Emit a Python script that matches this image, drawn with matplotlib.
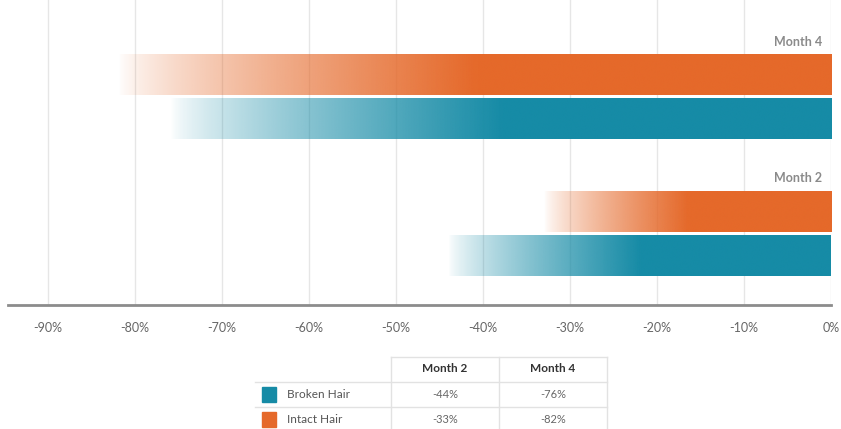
import numpy as np
import matplotlib.pyplot as plt
from matplotlib.colors import to_rgb

plt.rcParams['font.family'] = ['Lato', 'DejaVu Sans']

months = ["Month 2", "Month 4"]
broken_hair = [-44, -76]
intact_hair = [-33, -82]
series_names = ["Broken Hair", "Intact Hair"]
series_colors = ["#168ba6", "#e5692a"]
xticks = [-90, -80, -70, -60, -50, -40, -30, -20, -10, 0]

W, H = 841, 429
fig = plt.figure(figsize=(W / 100, H / 100), dpi=100)
ax = fig.add_axes([8 / W, 1 - 305 / H, (831 - 8) / W, 305 / H])

group_y = {"Month 4": 97, "Month 2": 234}
bar_h = 41
offset = 22


def gradient_bar(ax, y, val, color):
    rgb = to_rgb(color)
    n = 400
    x = np.linspace(0, 1, n)
    # fade in across the left part of the bar
    a = np.clip(x / 0.5, 0, 1) ** 0.75
    img = np.zeros((1, n, 4))
    img[0, :, :3] = rgb
    img[0, :, 3] = a
    ax.imshow(img, extent=[val, 0, y + bar_h / 2, y - bar_h / 2],
              aspect='auto', interpolation='bicubic', zorder=2)


for i, m in enumerate(months):
    yc = group_y[m]
    gradient_bar(ax, yc - offset, intact_hair[i], series_colors[1])
    gradient_bar(ax, yc + offset, broken_hair[i], series_colors[0])
    ax.text(-1.0, yc - offset - bar_h / 2 - 7, m, ha='right', va='bottom',
            fontsize=9, fontweight='bold', color='#8a8a8a', zorder=3)

ax.set_xlim(-94.6, 0)
ax.set_ylim(305, 0)
ax.set_xticks(xticks)
ax.set_xticklabels([f"{t}%" for t in xticks])
ax.tick_params(axis='x', length=0, pad=12, labelsize=9, labelcolor='#666666')
ax.tick_params(axis='y', left=False, labelleft=False)
ax.grid(axis='x', color='#e6e6e6', linewidth=1, zorder=0)
ax.set_axisbelow(True)
for s in ['top', 'left', 'right']:
    ax.spines[s].set_visible(False)
ax.spines['bottom'].set_color('#8c8c8c')
ax.spines['bottom'].set_linewidth(2)

# data table below the chart (pixel layout)
def fx(px):
    return px / W


def fy(py):
    return 1 - py / H


line_c = '#e2e2e2'
col_x = [255, 391, 499, 607]
row_y = [357, 382, 407, 432]
fig.add_artist(plt.Line2D([fx(391), fx(607)], [fy(357), fy(357)], color=line_c, lw=1))
for ry in row_y[1:]:
    fig.add_artist(plt.Line2D([fx(255), fx(607)], [fy(ry), fy(ry)], color=line_c, lw=1))
for cx in col_x[1:]:
    fig.add_artist(plt.Line2D([fx(cx), fx(cx)], [fy(357), fy(432)], color=line_c, lw=1))

for j, m in enumerate(months):
    fig.text(fx((col_x[j + 1] + col_x[j + 2]) / 2), fy(369), m, ha='center', va='center',
             fontsize=8.5, fontweight='bold', color='#333333')

table_vals = [broken_hair, intact_hair]
for r, name in enumerate(series_names):
    cy = (row_y[r + 1] + row_y[r + 2]) / 2
    fig.add_artist(plt.Rectangle((fx(262), fy(cy + 7.5)), 14 / W, 15 / H,
                                 color=series_colors[r], transform=fig.transFigure))
    fig.text(fx(287), fy(cy), name, ha='left', va='center', fontsize=8.5, color='#555555')
    for j in range(2):
        fig.text(fx((col_x[j + 1] + col_x[j + 2]) / 2), fy(cy), f"{table_vals[r][j]}%",
                 ha='center', va='center', fontsize=8, color='#666666')

fig.savefig("out.png", dpi=100)
